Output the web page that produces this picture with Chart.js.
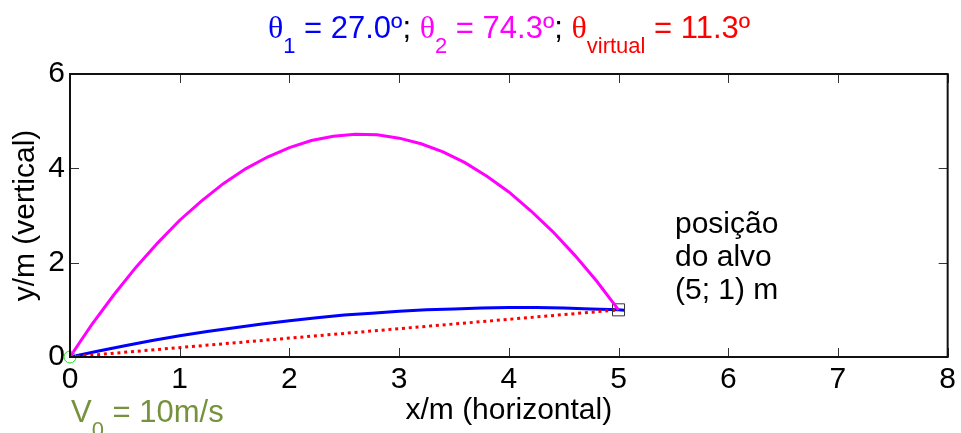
<!DOCTYPE html>
<html>
<head>
<meta charset="utf-8">
<script src="https://cdn.jsdelivr.net/npm/chart.js@4.4.0/dist/chart.umd.min.js"></script>
<style>
html,body{margin:0;padding:0;background:#fff;}
#wrap{width:961px;height:433px;position:relative;}
</style>
</head>
<body>
<div id="wrap"><canvas id="c" width="961" height="433"></canvas></div>
<script>
// ---- data ----
const blueX = [0, 0.25, 0.5, 0.75, 1.0, 1.25, 1.5, 1.75, 2.0, 2.25, 2.5, 2.75, 3.0, 3.25, 3.5, 3.75, 4.0, 4.25, 4.5, 4.75, 5.0, 5.05];
const blueY = [0, 0.12, 0.24, 0.35, 0.45, 0.54, 0.62, 0.70, 0.77, 0.83, 0.89, 0.93, 0.97, 1.00, 1.02, 1.04, 1.05, 1.05, 1.04, 1.02, 1.00, 0.99];
const magX = [0, 0.1, 0.2, 0.4, 0.6, 0.8, 1.0, 1.2, 1.4, 1.6, 1.8, 2.0, 2.2, 2.4, 2.6, 2.8, 3.0, 3.2, 3.4, 3.6, 3.8, 4.0, 4.2, 4.4, 4.6, 4.8, 5.0];
const magY = [0, 0.35, 0.69, 1.32, 1.90, 2.42, 2.90, 3.31, 3.68, 3.99, 4.24, 4.44, 4.59, 4.68, 4.72, 4.71, 4.64, 4.52, 4.35, 4.12, 3.83, 3.50, 3.10, 2.66, 2.16, 1.61, 1.00];
const virtX = [0, 5];
const virtY = [0, 1];
const targetX = [5];
const targetY = [1];
const launchX = [0];
const launchY = [0];
const xTicks = [0, 1, 2, 3, 4, 5, 6, 7, 8];
const yTicks = [0, 2, 4, 6];

const FONT = '"Liberation Sans", Arial, sans-serif';
const SERIF = '"Liberation Serif", "DejaVu Serif", serif';
const toPts = (xs, ys) => xs.map((x, i) => ({x: x, y: ys[i]}));

const titleSegs = [
  {t: 'θ', c: '#0000ff', greek: true},
  {t: '1', c: '#0000ff', sub: true},
  {t: ' = 27.0º', c: '#0000ff'},
  {t: '; ', c: '#000000'},
  {t: 'θ', c: '#ff00ff', greek: true},
  {t: '2', c: '#ff00ff', sub: true},
  {t: ' = 74.3º', c: '#ff00ff'},
  {t: '; ', c: '#000000'},
  {t: 'θ', c: '#ff0000', greek: true},
  {t: 'virtual', c: '#ff0000', sub: true},
  {t: ' = 11.3º', c: '#ff0000'}
];
const v0Segs = [
  {t: 'V', c: '#76923c'},
  {t: '0', c: '#76923c', sub: true},
  {t: ' = 10m/s', c: '#76923c'}
];
const targetNote = ['posição', 'do alvo', '(5; 1) m'];

function segFont(s) {
  if (s.sub) return '22px ' + FONT;
  if (s.greek) return '32px ' + SERIF;
  return '31px ' + FONT;
}
function drawSegs(ctx, segs, x, base, center) {
  let total = 0;
  segs.forEach(s => { ctx.font = segFont(s); s.w = ctx.measureText(s.t).width; total += s.w; });
  let cx = center ? x - total / 2 : x;
  segs.forEach(s => {
    ctx.font = segFont(s);
    ctx.fillStyle = s.c;
    ctx.fillText(s.t, cx, s.sub ? base + 15 : base);
    cx += s.w;
  });
}

const framePlugin = {
  id: 'frame',
  afterDraw(chart) {
    const {ctx, chartArea: a, scales} = chart;
    ctx.save();
    ctx.strokeStyle = '#333';
    ctx.lineWidth = 1;
    ctx.beginPath();
    xTicks.forEach(v => {
      const px = Math.round(scales.x.getPixelForValue(v)) + 0.5;
      ctx.moveTo(px, a.bottom); ctx.lineTo(px, a.bottom - 9);
      ctx.moveTo(px, a.top); ctx.lineTo(px, a.top + 9);
    });
    yTicks.forEach(v => {
      const py = Math.round(scales.y.getPixelForValue(v)) + 0.5;
      ctx.moveTo(a.left, py); ctx.lineTo(a.left + 9, py);
      ctx.moveTo(a.right, py); ctx.lineTo(a.right - 9, py);
    });
    ctx.stroke();
    ctx.strokeStyle = '#111';
    ctx.lineWidth = 2;
    ctx.strokeRect(a.left, a.top, a.right - a.left, a.bottom - a.top);
    ctx.textBaseline = 'alphabetic';
    ctx.textAlign = 'left';
    drawSegs(ctx, titleSegs, 509, 38, true);
    drawSegs(ctx, v0Segs, 71, 422, false);
    ctx.font = '30px ' + FONT;
    ctx.fillStyle = '#000';
    targetNote.forEach((t, i) => ctx.fillText(t, 675, 233 + i * 33));
    ctx.restore();
  }
};

new Chart(document.getElementById('c'), {
  type: 'line',
  data: {
    datasets: [
      {data: toPts(launchX, launchY), showLine: false, pointStyle: 'circle', pointRadius: 6,
       pointBorderColor: '#22dd22', pointBackgroundColor: 'rgba(0,0,0,0)', pointBorderWidth: 1, clip: false, order: 1},
      {data: toPts(magX, magY), borderColor: '#ff00ff', borderWidth: 3, pointRadius: 0, tension: 0, fill: false, order: 2},
      {data: toPts(targetX, targetY), showLine: false, pointStyle: 'rect', pointRadius: 8.5,
       pointBorderColor: '#333', pointBackgroundColor: 'rgba(0,0,0,0)', pointBorderWidth: 1, clip: false, order: 3},
      {data: toPts(virtX, virtY), borderColor: '#ff0000', borderWidth: 3, borderDash: [3, 3.8], pointRadius: 0, fill: false, order: 4},
      {data: toPts(blueX, blueY), borderColor: '#0000ff', borderWidth: 3, pointRadius: 0, tension: 0, fill: false, order: 5}
    ]
  },
  options: {
    responsive: false,
    animation: false,
    events: [],
    layout: {padding: {left: 0, top: 74, right: 11, bottom: 0}},
    plugins: {legend: {display: false}, tooltip: {enabled: false}, title: {display: false}},
    scales: {
      x: {
        type: 'linear', min: 0, max: 8,
        afterBuildTicks: s => { s.ticks = xTicks.map(v => ({value: v})); },
        afterFit: s => { s.height = 76; },
        grid: {display: false, drawTicks: false},
        border: {display: false},
        ticks: {font: {family: FONT, size: 30, lineHeight: 1.2}, color: '#000', padding: 5, maxRotation: 0, autoSkip: false},
        title: {display: true, text: 'x/m (horizontal)', color: '#000', font: {family: FONT, size: 30, lineHeight: 1.2}, padding: {top: 0, bottom: 4}}
      },
      y: {
        type: 'linear', min: 0, max: 6,
        afterBuildTicks: s => { s.ticks = yTicks.map(v => ({value: v})); },
        afterFit: s => { s.width = 70; },
        grid: {display: false, drawTicks: false},
        border: {display: false},
        ticks: {font: {family: FONT, size: 30, lineHeight: 1.2}, color: '#000', padding: 5, autoSkip: false},
        title: {display: true, text: 'y/m (vertical)', color: '#000', font: {family: FONT, size: 30, lineHeight: 1.2}, padding: {top: 8, bottom: 0}}
      }
    }
  },
  plugins: [framePlugin]
});
</script>
</body>
</html>
